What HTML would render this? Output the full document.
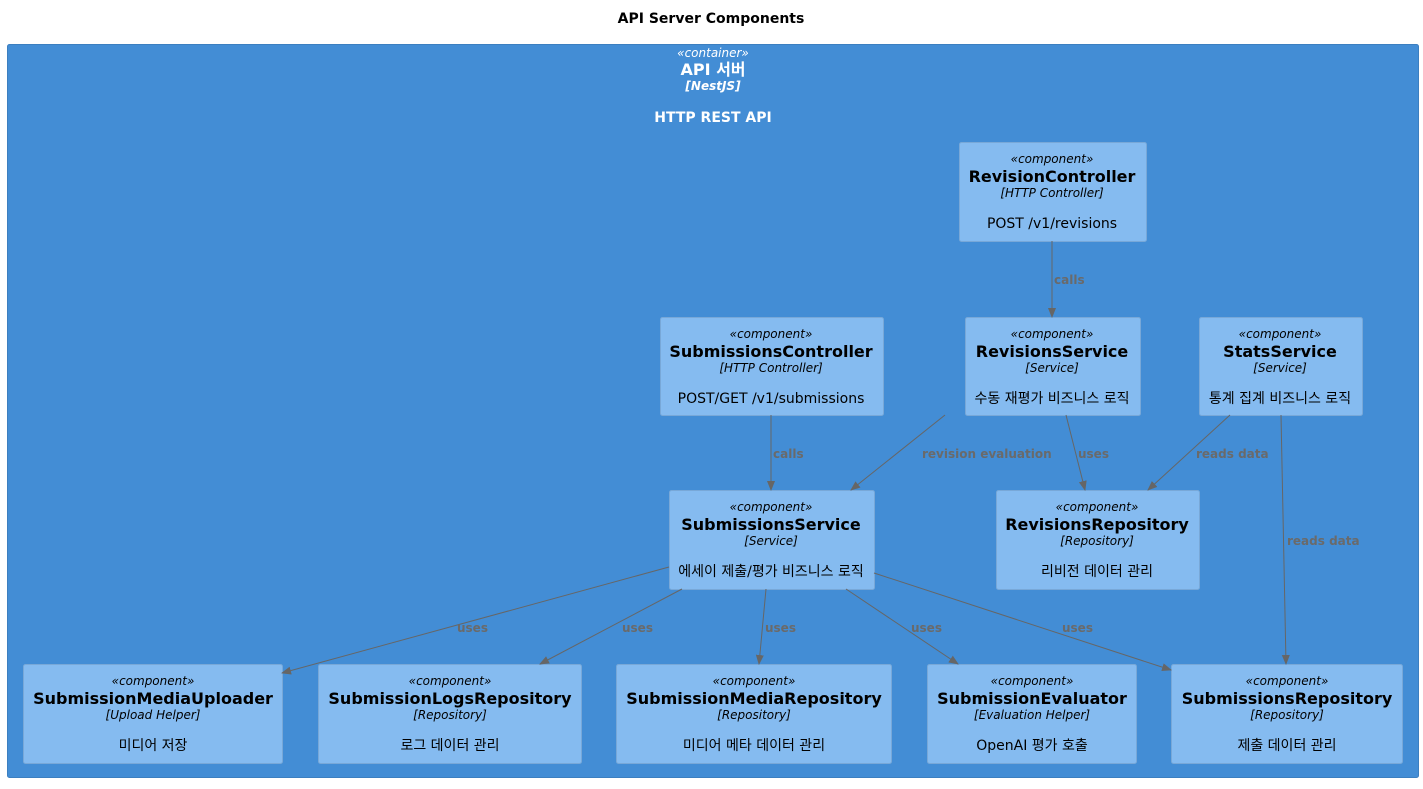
<!DOCTYPE html>
<html><head><meta charset="utf-8"><style>
body{margin:0;background:#fff}
svg text{font-family:"DejaVu Sans","Liberation Sans","Noto Sans CJK KR",sans-serif}
.st{font-size:12px;font-style:italic}
.nm{font-size:16px;font-weight:bold}
.ds{font-size:14px}
.lb{font-size:12px;font-weight:bold;fill:#6a6a6a}
</style></head><body>
<svg width="1423" height="784" xmlns="http://www.w3.org/2000/svg">
<defs><marker id="a" markerWidth="10" markerHeight="10" refX="9" refY="4" orient="auto" markerUnits="userSpaceOnUse"><path d="M0,0 L10,4 L0,8 Z" fill="#666"/></marker></defs>
<text x="711" y="23" text-anchor="middle" font-size="14" font-weight="bold">API Server Components</text>
<rect x="7.5" y="44.5" width="1411" height="733" rx="2" fill="#438DD5" stroke="#3C7FC0"/>
<g fill="#fff" text-anchor="middle">
<text x="713" y="57" class="st" font-size="11">«container»</text>
<text x="713" y="75" font-size="16" font-weight="bold">API 서버</text>
<text x="713" y="90" font-size="12" font-weight="bold" font-style="italic">[NestJS]</text>
<text x="713" y="122" font-size="14" font-weight="bold">HTTP REST API</text>
</g>
<g fill="#85BBF0" stroke="#78A8D8">
<rect x="959.5" y="142.5" width="187" height="99" rx="2"/>
<rect x="660.5" y="317.5" width="223" height="98" rx="2"/>
<rect x="965.5" y="317.5" width="175" height="98" rx="2"/>
<rect x="1199.5" y="317.5" width="163" height="98" rx="2"/>
<rect x="669.5" y="490.5" width="205" height="99" rx="2"/>
<rect x="996.5" y="490.5" width="203" height="99" rx="2"/>
<rect x="23.5" y="664.5" width="259" height="99" rx="2"/>
<rect x="318.5" y="664.5" width="263" height="99" rx="2"/>
<rect x="616.5" y="664.5" width="275" height="99" rx="2"/>
<rect x="927.5" y="664.5" width="209" height="99" rx="2"/>
<rect x="1171.5" y="664.5" width="231" height="99" rx="2"/>
</g>
<g text-anchor="middle" fill="#000">
<g transform="translate(1052,142)"><text y="21" class="st">«component»</text><text y="40" class="nm">RevisionController</text><text y="55" class="st">[HTTP Controller]</text><text y="86" class="ds">POST /v1/revisions</text></g>
<g transform="translate(771,317)"><text y="21" class="st">«component»</text><text y="40" class="nm">SubmissionsController</text><text y="55" class="st">[HTTP Controller]</text><text y="86" class="ds">POST/GET /v1/submissions</text></g>
<g transform="translate(1052,317)"><text y="21" class="st">«component»</text><text y="40" class="nm">RevisionsService</text><text y="55" class="st">[Service]</text><text y="86" class="ds">수동 재평가 비즈니스 로직</text></g>
<g transform="translate(1280,317)"><text y="21" class="st">«component»</text><text y="40" class="nm">StatsService</text><text y="55" class="st">[Service]</text><text y="86" class="ds">통계 집계 비즈니스 로직</text></g>
<g transform="translate(771,490)"><text y="21" class="st">«component»</text><text y="40" class="nm">SubmissionsService</text><text y="55" class="st">[Service]</text><text y="86" class="ds">에세이 제출/평가 비즈니스 로직</text></g>
<g transform="translate(1097,490)"><text y="21" class="st">«component»</text><text y="40" class="nm">RevisionsRepository</text><text y="55" class="st">[Repository]</text><text y="86" class="ds">리비전 데이터 관리</text></g>
<g transform="translate(153,664)"><text y="21" class="st">«component»</text><text y="40" class="nm">SubmissionMediaUploader</text><text y="55" class="st">[Upload Helper]</text><text y="86" class="ds">미디어 저장</text></g>
<g transform="translate(450,664)"><text y="21" class="st">«component»</text><text y="40" class="nm">SubmissionLogsRepository</text><text y="55" class="st">[Repository]</text><text y="86" class="ds">로그 데이터 관리</text></g>
<g transform="translate(754,664)"><text y="21" class="st">«component»</text><text y="40" class="nm">SubmissionMediaRepository</text><text y="55" class="st">[Repository]</text><text y="86" class="ds">미디어 메타 데이터 관리</text></g>
<g transform="translate(1032,664)"><text y="21" class="st">«component»</text><text y="40" class="nm">SubmissionEvaluator</text><text y="55" class="st">[Evaluation Helper]</text><text y="86" class="ds">OpenAI 평가 호출</text></g>
<g transform="translate(1287,664)"><text y="21" class="st">«component»</text><text y="40" class="nm">SubmissionsRepository</text><text y="55" class="st">[Repository]</text><text y="86" class="ds">제출 데이터 관리</text></g>
</g>
<g stroke="#666" stroke-width="1" marker-end="url(#a)">
<line x1="1052" y1="241" x2="1052" y2="317"/>
<line x1="771" y1="415" x2="771" y2="490"/>
<line x1="945" y1="415" x2="851" y2="490"/>
<line x1="1066" y1="415" x2="1085" y2="490"/>
<line x1="1230" y1="415" x2="1148" y2="490"/>
<line x1="1281" y1="415" x2="1286" y2="664"/>
<line x1="669" y1="567" x2="282" y2="673"/>
<line x1="682" y1="589" x2="540" y2="664"/>
<line x1="766" y1="589" x2="759" y2="664"/>
<line x1="846" y1="589" x2="958" y2="664"/>
<line x1="874" y1="573" x2="1171" y2="670"/>
</g>
<g class="lb">
<text x="1054" y="284" class="lb">calls</text>
<text x="773" y="458" class="lb">calls</text>
<text x="922" y="458" class="lb">revision evaluation</text>
<text x="1078" y="458" class="lb">uses</text>
<text x="1196" y="458" class="lb">reads data</text>
<text x="1287" y="545" class="lb">reads data</text>
<text x="457" y="632" class="lb">uses</text>
<text x="622" y="632" class="lb">uses</text>
<text x="765" y="632" class="lb">uses</text>
<text x="911" y="632" class="lb">uses</text>
<text x="1062" y="632" class="lb">uses</text>
</g>
</svg>
</body></html>
